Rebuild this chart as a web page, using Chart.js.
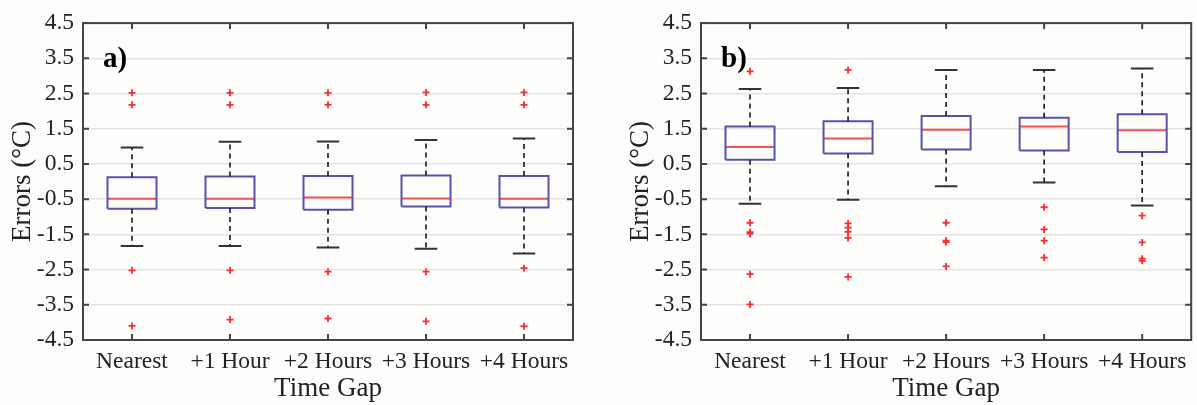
<!DOCTYPE html>
<html>
<head>
<meta charset="utf-8" />
<script src="https://cdn.jsdelivr.net/npm/chart.js@4"></script>
<style>
  body { margin: 0; background: #fdfdfc; }
  .panel { position: absolute; top: 0; }
  #panelA { left: 0; }
  #panelB { left: 618px; }
</style>
</head>
<body>
<div class="panel" id="panelA"><canvas id="chartA" width="590" height="405"></canvas></div>
<div class="panel" id="panelB"><canvas id="chartB" width="579" height="405"></canvas></div>
<script>
const categories = ["Nearest", "+1 Hour", "+2 Hours", "+3 Hours", "+4 Hours"];
const yTicks = [-4.5, -3.5, -2.5, -1.5, -0.5, 0.5, 1.5, 2.5, 3.5, 4.5];

// panel a)
const aLow = [-1.83, -1.83, -1.87, -1.91, -2.04];
const aQ1 = [-0.77, -0.75, -0.8, -0.71, -0.74];
const aMedian = [-0.49, -0.49, -0.45, -0.48, -0.49];
const aQ3 = [0.12, 0.14, 0.16, 0.17, 0.16];
const aHigh = [0.97, 1.13, 1.14, 1.18, 1.22];
const aOutliers = [
  [2.52, 2.18, -2.52, -4.1],
  [2.52, 2.18, -2.52, -3.92],
  [2.52, 2.18, -2.56, -3.89],
  [2.53, 2.18, -2.56, -3.97],
  [2.53, 2.18, -2.46, -4.11],
];

// panel b)
const bLow = [-0.63, -0.52, -0.13, -0.03, -0.68];
const bQ1 = [0.62, 0.8, 0.91, 0.88, 0.84];
const bMedian = [0.98, 1.22, 1.47, 1.56, 1.46];
const bQ3 = [1.56, 1.71, 1.86, 1.81, 1.91];
const bHigh = [2.63, 2.66, 3.17, 3.17, 3.21];
const bOutliers = [
  [3.13, -1.17, -1.44, -1.48, -2.63, -3.49],
  [3.17, -1.19, -1.31, -1.43, -1.6, -2.71],
  [-1.17, -1.68, -1.72, -2.41],
  [-0.73, -1.36, -1.68, -2.16],
  [-0.97, -1.73, -2.19, -2.25],
];

const FONT = "'Liberation Serif', 'Times New Roman', serif";
const TEXT = "#222";
const BOX_HALF = 0.25;
const CAP_HALF = 0.115;

function segments(list) {
  // list of [[x1,y1],[x2,y2],...] pieces, broken with null points
  const pts = [];
  list.forEach((piece) => {
    piece.forEach((p) => pts.push({ x: p[0], y: p[1] }));
    pts.push({ x: piece[0][0], y: null });
  });
  return pts;
}

function buildDatasets(low, q1, med, q3, high, outliers) {
  const boxes = [];
  const medians = [];
  const whiskers = [];
  const caps = [];
  const dots = [];
  categories.forEach((c, i) => {
    const x = i + 1;
    boxes.push([
      [x - BOX_HALF, q1[i]], [x + BOX_HALF, q1[i]], [x + BOX_HALF, q3[i]],
      [x - BOX_HALF, q3[i]], [x - BOX_HALF, q1[i]],
    ]);
    medians.push([[x - BOX_HALF, med[i]], [x + BOX_HALF, med[i]]]);
    whiskers.push([[x, q3[i]], [x, high[i]]]);
    whiskers.push([[x, q1[i]], [x, low[i]]]);
    caps.push([[x - CAP_HALF, high[i]], [x + CAP_HALF, high[i]]]);
    caps.push([[x - CAP_HALF, low[i]], [x + CAP_HALF, low[i]]]);
    outliers[i].forEach((v) => dots.push({ x: x, y: v }));
  });

  const lineBase = { showLine: true, spanGaps: false, pointRadius: 0, fill: false };
  return [
    { ...lineBase, data: segments(whiskers), borderColor: "#222", borderWidth: 1.7, borderDash: [5, 4] },
    { ...lineBase, data: segments(caps), borderColor: "#333", borderWidth: 2 },
    { ...lineBase, data: segments(boxes), borderColor: "#5a52a8", borderWidth: 2 },
    { ...lineBase, data: segments(medians), borderColor: "#f05454", borderWidth: 2 },
    {
      data: dots, showLine: false, pointStyle: "cross", pointRadius: 3.5,
      borderColor: "#ff2b2b", backgroundColor: "#ff2b2b", pointBorderWidth: 1.8,
    },
  ];
}

// box frame, inward tick marks, panel letter
const framePlugin = {
  id: "frame",
  afterDraw(chart, args, opts) {
    const { ctx, chartArea: a, scales } = chart;
    ctx.save();
    ctx.strokeStyle = "#444";
    ctx.lineWidth = 2;
    ctx.beginPath();
    scales.x.ticks.forEach((t) => {
      const px = scales.x.getPixelForValue(t.value);
      ctx.moveTo(px, a.bottom);
      ctx.lineTo(px, a.bottom - 6);
      ctx.moveTo(px, a.top);
      ctx.lineTo(px, a.top + 6);
    });
    scales.y.ticks.forEach((t) => {
      const py = scales.y.getPixelForValue(t.value);
      ctx.moveTo(a.right, py);
      ctx.lineTo(a.right - 6, py);
      ctx.moveTo(a.left, py);
      ctx.lineTo(a.left + 6, py);
    });
    ctx.stroke();
    ctx.strokeRect(a.left, a.top, a.right - a.left, a.bottom - a.top);
    ctx.fillStyle = "#000";
    ctx.font = "bold 29px " + FONT;
    ctx.textBaseline = "middle";
    ctx.fillText(opts.letter, a.left + 20, a.top + 36);
    ctx.restore();
  },
};

function makeChart(id, datasets, letter, pad) {
  return new Chart(document.getElementById(id), {
    type: "scatter",
    data: { datasets: datasets },
    plugins: [framePlugin],
    options: {
      responsive: false,
      animation: false,
      layout: { padding: pad },
      plugins: {
        legend: { display: false },
        tooltip: { enabled: false },
        frame: { letter: letter },
      },
      scales: {
        x: {
          type: "linear",
          min: 0.5,
          max: 5.5,
          afterBuildTicks: (axis) => {
            axis.ticks = categories.map((c, i) => ({ value: i + 1 }));
          },
          afterFit: (axis) => { axis.height = 65; },
          grid: { display: false, drawTicks: false },
          border: { display: false },
          ticks: {
            padding: 8,
            color: TEXT,
            font: { family: FONT, size: 23.5 },
            maxRotation: 0,
            autoSkip: false,
            callback: (v) => categories[Math.round(v) - 1],
          },
          title: {
            display: true,
            text: "Time Gap",
            color: TEXT,
            font: { family: FONT, size: 27 },
            padding: { top: 0, bottom: 0 },
          },
        },
        y: {
          min: -4.5,
          max: 4.5,
          afterBuildTicks: (axis) => {
            axis.ticks = yTicks.map((v) => ({ value: v }));
          },
          afterFit: (axis) => { axis.width = 83; },
          grid: { color: "#e4e4e4", lineWidth: 1.5, drawTicks: false },
          border: { display: false },
          ticks: {
            padding: 9,
            color: TEXT,
            font: { family: FONT, size: 23.5 },
            callback: (v) => v.toFixed(1),
          },
          title: {
            display: true,
            text: "Errors (°C)",
            color: TEXT,
            font: { family: FONT, size: 27 },
            padding: { top: 7, bottom: 0 },
          },
        },
      },
    },
  });
}

makeChart("chartA", buildDatasets(aLow, aQ1, aMedian, aQ3, aHigh, aOutliers), "a)",
  { left: 0, right: 17, top: 20, bottom: 0 });
makeChart("chartB", buildDatasets(bLow, bQ1, bMedian, bQ3, bHigh, bOutliers), "b)",
  { left: 0, right: 1, top: 18, bottom: 0 });
</script>
</body>
</html>
